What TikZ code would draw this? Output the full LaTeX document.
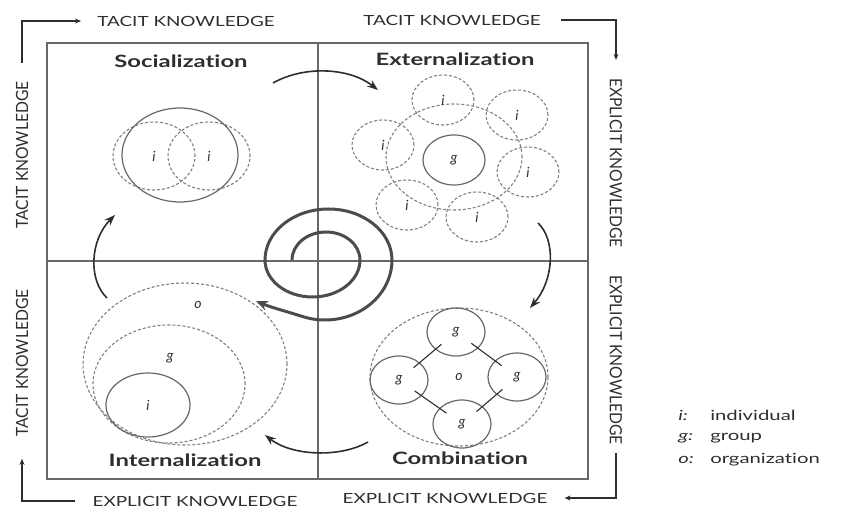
\documentclass[tikz,border=0pt]{standalone}
\usepackage{fontspec}
\setmainfont{Lato}[Ligatures={NoCommon}]
\usetikzlibrary{arrows.meta,shapes.geometric}
\definecolor{ink}{HTML}{2E2E2E}
\definecolor{frame}{HTML}{686868}
\definecolor{dashgray}{HTML}{808080}
\tikzset{
	axis/.style={xscale=1.35,inner sep=0pt,text=ink,font=\fontsize{14}{14}\selectfont},
	vaxis/.style={xscale=1.2,yscale=1.12,inner sep=0pt,text=ink,font=\fontsize{14}{14}\selectfont},
	mode/.style={xscale=1.4,inner sep=0pt,text=ink,font=\fontsize{17}{17}\selectfont\bfseries},
	lbl/.style={inner sep=0pt,text=ink,font=\fontsize{14}{14}\selectfont\itshape},
	key/.style={xscale=1.45,anchor=west,inner sep=0pt,text=ink,font=\fontsize{14}{14}\selectfont},
	sz/.style 2 args={minimum width=#1pt,minimum height=#2pt},
	solidc/.style={lbl,ellipse,draw=frame,line width=1.2pt},
	dashc/.style={lbl,ellipse,draw=dashgray,line width=1.1pt,dash pattern=on 3pt off 2pt},
	cyc/.style={-{Stealth[length=11pt,width=8pt]},line width=1.6pt,ink},
	corner/.style={-{Stealth[length=6pt,width=5pt]},line width=1.3pt,ink},
	link/.style={line width=1.1pt,ink,shorten <=19pt,shorten >=19pt}
}
\begin{document}
\begin{tikzpicture}[x=1pt,y=-1pt]
	\useasboundingbox (0,0) rectangle (844,510);
	\draw[frame,line width=1.3pt] (47,43) rectangle (588,479);
	\draw[frame,line width=1.2pt] (318,43) -- (318,479);
	\draw[frame,line width=1.2pt] (47,261) -- (588,261);

	\node[axis] (tt1) at (186,21) {TACIT KNOWLEDGE};
	\node[axis] (tt2) at (452,20) {TACIT KNOWLEDGE};
	\node[vaxis,rotate=90] (lt1) at (22,155) {TACIT KNOWLEDGE};
	\node[vaxis,rotate=90] (lt2) at (22,363) {TACIT KNOWLEDGE};
	\node[vaxis,rotate=-90] (rt1) at (616,163) {EXPLICIT KNOWLEDGE};
	\node[vaxis,rotate=-90] (rt2) at (616,360) {EXPLICIT KNOWLEDGE};
	\node[axis] (bt1) at (195,501) {EXPLICIT KNOWLEDGE};
	\node[axis] (bt2) at (445,498) {EXPLICIT KNOWLEDGE};
	\draw[corner,shorten <=18pt,shorten >=16pt] (lt1.east) |- (tt1.west);
	\draw[corner,shorten <=20pt,shorten >=18pt] (tt2.east) -| (rt1.west);
	\draw[corner,shorten <=8pt,shorten >=17pt] (rt2.east) |- (bt2.east);
	\draw[corner,shorten <=17pt,shorten >=22pt] (bt1.west) -| (lt2.west);

	\node[mode] (soc) at (181,61) {Socialization};
	\node[mode] (ext) at (455,59) {Externalization};
	\node[mode] (int) at (185,460) {Internalization};
	\node[mode] (com) at (460,458) {Combination};

	\node[dashc,sz={82}{68}] (s1) at (154,156) {i};
	\node[dashc,sz={82}{68}] (s2) at (209,156) {i};
	\node[solidc,sz={116}{94}] (s0) at (180,155) {};

	\node[dashc,sz={136}{106}] (eo) at (454,157) {};
	\foreach \n/\x/\y in {1/443/100,2/517/115,3/528/172,4/477/217,5/407/205,6/383/145}
		\node[dashc,sz={62}{50}] (e\n) at (\x,\y) {i};
	\node[solidc,sz={62}{50}] (eg) at (454,160) {g};

	\node[dashc,sz={178}{138}] (co) at (459,377) {o};
	\node[solidc,sz={58}{48}] (c1) at (456,332) {g};
	\node[solidc,sz={58}{48}] (c2) at (399,380) {g};
	\node[solidc,sz={58}{48}] (c3) at (517,377) {g};
	\node[solidc,sz={58}{48}] (c4) at (462,424) {g};
	\foreach \a/\b in {c1/c2,c1/c3,c2/c4,c3/c4}
		\draw[link] (\a.center) -- (\b.center);

	\node[dashc,sz={204}{162}] (io) at (185,364) {};
	\node[dashc,sz={152}{118}] (ig) at (169,384) {};
	\node[solidc,sz={84}{64}] (ii) at (148,405) {i};
	\node[lbl] (lo) at (198,305) {o};
	\node[lbl] (lg) at (170,358) {g};

	\coordinate (a1) at (273,83);
	\coordinate (a2) at (378,90);
	\coordinate (b1) at (538,223);
	\coordinate (b2) at (530,308);
	\coordinate (d1) at (368,442);
	\coordinate (d2) at (265,435);
	\coordinate (f1) at (107,298);
	\coordinate (f2) at (115,215);
	\draw[cyc] (a1) .. controls (305,65) and (350,68) .. (a2);
	\draw[cyc] (b1) .. controls (556,240) and (554,280) .. (b2);
	\draw[cyc] (d1) .. controls (340,458) and (292,456) .. (d2);
	\draw[cyc] (f1) .. controls (88,280) and (90,240) .. (f2);

	\draw[-{Stealth[length=12pt,width=10pt]},line width=3pt,black!70]
		(292,260) arc[start angle=180,end angle=360,x radius=34,y radius=28]
		arc[start angle=0,end angle=180,x radius=47.5,y radius=37]
		arc[start angle=180,end angle=360,x radius=63.5,y radius=51]
		arc[start angle=0,end angle=110,x radius=67,y radius=60]
		.. controls (285,311) and (270,307) .. (256,301);

	\node[key,font=\fontsize{14}{14}\selectfont\itshape] (k1) at (678,415) {i:};
	\node[key,font=\fontsize{14}{14}\selectfont\itshape] (k2) at (678,438) {g:};
	\node[key,font=\fontsize{14}{14}\selectfont\itshape] (k3) at (678,460) {o:};
	\node[key] (v1) at (710,415) {individual};
	\node[key] (v2) at (710,438) {group};
	\node[key] (v3) at (710,460) {organization};
\end{tikzpicture}
\end{document}
